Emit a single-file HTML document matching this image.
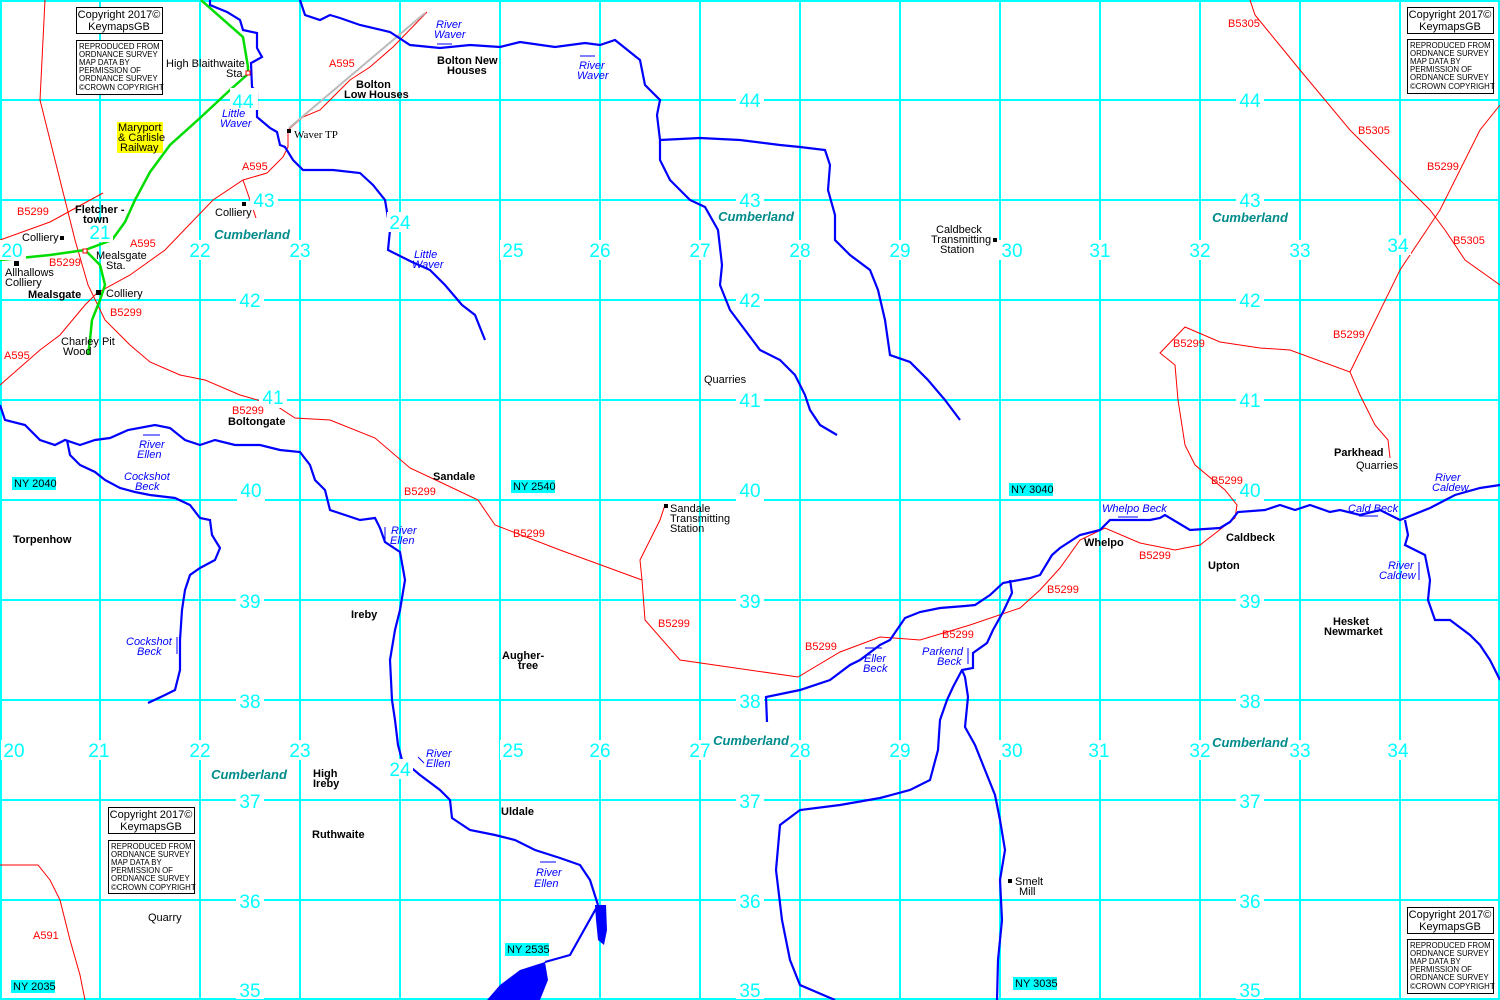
<!DOCTYPE html>
<html><head><meta charset="utf-8"><style>
html,body{margin:0;padding:0;background:#fff;}
svg{display:block;font-family:"Liberation Sans",sans-serif;}
.g{stroke:#00ffff;stroke-width:2;}
.r{stroke:#ff0000;stroke-width:1;fill:none;}
.b{stroke:#0000ff;stroke-width:2.2;fill:none;}
.n{fill:#00ffff;font-size:19px;text-anchor:middle;}
.nb{fill:#fff;}
.rl{fill:#ff0000;font-size:11px;}
.rv{fill:#0000ff;font-size:11px;font-style:italic;}
.t{fill:#000;font-size:11px;}
.tb{fill:#000;font-size:11px;font-weight:bold;}
.cu{fill:#008b8b;font-size:13px;font-weight:bold;font-style:italic;text-anchor:middle;}
.ny{fill:#000;font-size:11px;}
.cp{fill:#000;font-size:11px;text-anchor:middle;}
.cs{fill:#000;font-size:7.8px;}
</style></head><body>
<svg width="1500" height="1000" viewBox="0 0 1500 1000" xmlns="http://www.w3.org/2000/svg">
<rect width="1500" height="1000" fill="#fff"/>
<g class="g">
<line x1="100" y1="0" x2="100" y2="1000"/><line x1="200" y1="0" x2="200" y2="1000"/><line x1="300" y1="0" x2="300" y2="1000"/><line x1="400" y1="0" x2="400" y2="1000"/><line x1="500" y1="0" x2="500" y2="1000"/><line x1="600" y1="0" x2="600" y2="1000"/><line x1="700" y1="0" x2="700" y2="1000"/><line x1="800" y1="0" x2="800" y2="1000"/><line x1="900" y1="0" x2="900" y2="1000"/><line x1="1000" y1="0" x2="1000" y2="1000"/><line x1="1100" y1="0" x2="1100" y2="1000"/><line x1="1200" y1="0" x2="1200" y2="1000"/><line x1="1300" y1="0" x2="1300" y2="1000"/><line x1="1400" y1="0" x2="1400" y2="1000"/>
<line x1="0" y1="1" x2="1500" y2="1"/><line x1="0" y1="100" x2="1500" y2="100"/><line x1="0" y1="200" x2="1500" y2="200"/><line x1="0" y1="300" x2="1500" y2="300"/><line x1="0" y1="400" x2="1500" y2="400"/><line x1="0" y1="500" x2="1500" y2="500"/><line x1="0" y1="600" x2="1500" y2="600"/><line x1="0" y1="700" x2="1500" y2="700"/><line x1="0" y1="800" x2="1500" y2="800"/><line x1="0" y1="900" x2="1500" y2="900"/><line x1="0" y1="999" x2="1500" y2="999"/>
<line x1="1" y1="0" x2="1" y2="1000"/><line x1="1499" y1="0" x2="1499" y2="1000"/>
</g>

<!-- roads -->
<g class="r">
<polyline points="45,0 40,100 55,160 65,200 75,240 88,285 105,320 130,345 150,362 180,375 205,380 240,395 275,405 295,418 330,420 375,438 410,468 440,482 478,500 495,525 560,550 642,580 645,620 680,660 798,677 840,652 880,637 920,640 970,625 1020,608 1040,590 1060,568 1080,540 1105,528 1140,543 1175,550 1200,545 1235,518 1237,505 1225,490 1195,465 1185,445 1178,400 1175,365 1160,353 1185,327 1220,342 1260,348 1290,350 1350,372 1360,395 1375,425 1388,440 1390,458"/>
<polyline points="1350,372 1400,270 1440,210 1480,130 1500,105"/>
<polyline points="1250,0 1255,15 1300,70 1350,130 1400,180 1430,210 1445,230 1465,260 1500,285"/>
<polyline points="0,385 40,350 60,335 85,305 97,293 130,275 165,250 213,200 243,180 267,173 283,157 288,147 288,130 303,117 320,110 333,97 350,80 370,67 393,47 427,12"/>
<polyline points="0,240 50,222 103,193"/>
<polyline points="243,180 250,200 256,218"/>
<polyline points="642,580 640,560 660,520 665,505"/>
<polyline points="0,865 38,865 50,880 60,900 70,940 80,975 85,1000"/>
</g>
<polyline points="289,128 425,13" stroke="#bbbbbb" stroke-width="2" fill="none"/>

<!-- railway -->
<polyline points="201,0 243,37 248,67 248,74 230,90 200,118 170,145 150,172 135,200 125,222 112,240 85,250 50,255 0,260" stroke="#00dd00" stroke-width="2.5" fill="none"/>
<polyline points="85,250 100,265 105,285 100,300 92,320 90,340 88,355" stroke="#00dd00" stroke-width="2.5" fill="none"/>

<!-- rivers -->
<g class="b">
<polyline points="300,0 305,15 320,20 330,15 340,18 360,25 390,32 410,45 440,48 470,45 500,47 520,42 555,47 585,43 600,45 615,40 640,60 645,85 660,100 657,115 660,140 660,160 670,180 690,200 705,207 718,230 722,265 720,285 730,310 745,330 760,350 780,360 795,375 805,395 810,410 820,425 837,435"/>
<polyline points="660,140 700,138 740,140 780,145 800,147 825,150 830,165 828,190 835,215 835,240 850,255 870,270 878,290 885,320 890,355 910,362 928,380 945,400 960,420"/>
<polyline points="210,0 210,5 227,12 240,20 243,30 257,33 257,48 262,57 253,62 251,63 252,87 257,93 257,113 257,117 270,128 277,132 280,145 285,147 293,160 303,170 333,170 360,173 373,185 385,200 390,230 388,250 412,262 430,270 445,285 462,305 475,315 485,340"/>
<polyline points="0,405 5,420 25,425 40,440 55,445 65,440 80,445 95,440 110,438 128,430 155,425 170,428 185,440 200,445 215,440 235,445 260,445 280,450 300,452 310,465 315,480 325,490 330,510 345,515 360,520 375,518 380,528 385,542 400,552 405,580 400,610 395,630 390,660 392,700 395,720 398,745 402,760 420,775 440,790 450,800 452,818 470,830 495,835 515,840 535,850 560,858 580,865 590,880 598,905"/>
<polyline points="67,440 70,455 80,465 95,472 105,480 120,488 135,492 150,495 175,498 190,505 200,518 210,520 212,535 220,548 215,560 200,568 190,575 185,590 182,610 180,640 180,670 175,690 165,695 148,703"/>
<polyline points="767,722 766,697 800,690 830,680 850,665 860,660 880,645 890,640 905,618 920,612 940,608 965,606 975,605 990,595 1003,583 1030,578 1040,575 1052,555 1060,548 1080,535 1100,530 1110,520 1130,520 1150,520 1160,518 1165,515 1190,530 1220,528 1230,522 1238,512 1265,510 1280,505 1295,510 1310,505 1330,512 1340,510 1360,515 1380,510 1400,520 1430,508 1455,495 1480,488 1500,485"/>
<polyline points="1405,520 1408,535 1405,545 1425,555 1430,580 1428,600 1435,620 1450,620 1470,635 1480,645 1490,660 1500,680"/>
<polyline points="1010,580 1012,593 1003,612 993,630 987,643 973,653 973,668 962,670 953,687 947,700 940,720 938,750 930,780 910,790 880,798 840,805 800,810 780,825 776,870 782,920 790,960 800,985 835,1000"/>
<polyline points="962,670 965,677 968,697 965,727 975,745 985,770 995,795 1000,820 1005,850 1000,880 1002,920 998,960 997,1000"/>
<polyline points="598,905 570,955 545,962"/>
</g>
<polygon points="595,905 606,905 607,930 604,945 598,940 596,920" fill="#0000ff"/>
<polygon points="487,1000 500,985 520,970 545,962 548,980 540,1000" fill="#0000ff"/>

<!-- northing/easting labels -->
<g>
<rect class="nb" x="230" y="88" width="28" height="22"/><text class="n" x="243" y="108">44</text>
<rect class="nb" x="736" y="88" width="28" height="22"/><text class="n" x="750" y="107">44</text>
<rect class="nb" x="1236" y="88" width="28" height="22"/><text class="n" x="1250" y="107">44</text>
<rect class="nb" x="250" y="188" width="28" height="22"/><text class="n" x="264" y="207">43</text>
<rect class="nb" x="736" y="188" width="28" height="22"/><text class="n" x="750" y="207">43</text>
<rect class="nb" x="1236" y="188" width="28" height="22"/><text class="n" x="1250" y="207">43</text>
<rect class="nb" x="236" y="288" width="28" height="22"/><text class="n" x="250" y="307">42</text>
<rect class="nb" x="736" y="288" width="28" height="22"/><text class="n" x="750" y="307">42</text>
<rect class="nb" x="1236" y="288" width="28" height="22"/><text class="n" x="1250" y="307">42</text>
<rect class="nb" x="259" y="386" width="28" height="22"/><text class="n" x="273" y="404">41</text>
<rect class="nb" x="736" y="388" width="28" height="22"/><text class="n" x="750" y="407">41</text>
<rect class="nb" x="1236" y="388" width="28" height="22"/><text class="n" x="1250" y="407">41</text>
<rect class="nb" x="237" y="480" width="28" height="22"/><text class="n" x="251" y="497">40</text>
<rect class="nb" x="736" y="480" width="28" height="22"/><text class="n" x="750" y="497">40</text>
<rect class="nb" x="1236" y="480" width="28" height="22"/><text class="n" x="1250" y="497">40</text>
<rect class="nb" x="236" y="590" width="28" height="22"/><text class="n" x="250" y="608">39</text>
<rect class="nb" x="736" y="590" width="28" height="22"/><text class="n" x="750" y="608">39</text>
<rect class="nb" x="1236" y="590" width="28" height="22"/><text class="n" x="1250" y="608">39</text>
<rect class="nb" x="236" y="690" width="28" height="22"/><text class="n" x="250" y="708">38</text>
<rect class="nb" x="736" y="690" width="28" height="22"/><text class="n" x="750" y="708">38</text>
<rect class="nb" x="1236" y="690" width="28" height="22"/><text class="n" x="1250" y="708">38</text>
<rect class="nb" x="236" y="790" width="28" height="22"/><text class="n" x="250" y="808">37</text>
<rect class="nb" x="736" y="790" width="28" height="22"/><text class="n" x="750" y="808">37</text>
<rect class="nb" x="1236" y="790" width="28" height="22"/><text class="n" x="1250" y="808">37</text>
<rect class="nb" x="236" y="890" width="28" height="22"/><text class="n" x="250" y="908">36</text>
<rect class="nb" x="736" y="890" width="28" height="22"/><text class="n" x="750" y="908">36</text>
<rect class="nb" x="1236" y="890" width="28" height="22"/><text class="n" x="1250" y="908">36</text>
<rect class="nb" x="236" y="980" width="28" height="19"/><text class="n" x="250" y="997">35</text>
<rect class="nb" x="736" y="980" width="28" height="19"/><text class="n" x="750" y="997">35</text>
<rect class="nb" x="1236" y="980" width="28" height="19"/><text class="n" x="1250" y="997">35</text>
</g>
<g>
<rect class="nb" x="0" y="240" width="26" height="20"/><text class="n" x="12" y="257">20</text>
<rect class="nb" x="87" y="222" width="26" height="20"/><text class="n" x="100" y="239">21</text>
<rect class="nb" x="187" y="240" width="26" height="20"/><text class="n" x="200" y="257">22</text>
<rect class="nb" x="287" y="240" width="26" height="20"/><text class="n" x="300" y="257">23</text>
<rect class="nb" x="387" y="212" width="26" height="20"/><text class="n" x="400" y="229">24</text>
<rect class="nb" x="500" y="240" width="26" height="20"/><text class="n" x="513" y="257">25</text>
<rect class="nb" x="587" y="240" width="26" height="20"/><text class="n" x="600" y="257">26</text>
<rect class="nb" x="687" y="240" width="26" height="20"/><text class="n" x="700" y="257">27</text>
<rect class="nb" x="787" y="240" width="26" height="20"/><text class="n" x="800" y="257">28</text>
<rect class="nb" x="887" y="240" width="26" height="20"/><text class="n" x="900" y="257">29</text>
<rect class="nb" x="999" y="240" width="26" height="20"/><text class="n" x="1012" y="257">30</text>
<rect class="nb" x="1087" y="240" width="26" height="20"/><text class="n" x="1100" y="257">31</text>
<rect class="nb" x="1187" y="240" width="26" height="20"/><text class="n" x="1200" y="257">32</text>
<rect class="nb" x="1287" y="240" width="26" height="20"/><text class="n" x="1300" y="257">33</text>
<rect class="nb" x="1385" y="235" width="26" height="20"/><text class="n" x="1398" y="252">34</text>

<rect class="nb" x="1" y="740" width="26" height="20"/><text class="n" x="14" y="757">20</text>
<rect class="nb" x="86" y="740" width="26" height="20"/><text class="n" x="99" y="757">21</text>
<rect class="nb" x="187" y="740" width="26" height="20"/><text class="n" x="200" y="757">22</text>
<rect class="nb" x="287" y="740" width="26" height="20"/><text class="n" x="300" y="757">23</text>
<rect class="nb" x="387" y="759" width="26" height="20"/><text class="n" x="400" y="776">24</text>
<rect class="nb" x="500" y="740" width="26" height="20"/><text class="n" x="513" y="757">25</text>
<rect class="nb" x="587" y="740" width="26" height="20"/><text class="n" x="600" y="757">26</text>
<rect class="nb" x="687" y="740" width="26" height="20"/><text class="n" x="700" y="757">27</text>
<rect class="nb" x="787" y="740" width="26" height="20"/><text class="n" x="800" y="757">28</text>
<rect class="nb" x="887" y="740" width="26" height="20"/><text class="n" x="900" y="757">29</text>
<rect class="nb" x="999" y="740" width="26" height="20"/><text class="n" x="1012" y="757">30</text>
<rect class="nb" x="1086" y="740" width="26" height="20"/><text class="n" x="1099" y="757">31</text>
<rect class="nb" x="1187" y="740" width="26" height="20"/><text class="n" x="1200" y="757">32</text>
<rect class="nb" x="1287" y="740" width="26" height="20"/><text class="n" x="1300" y="757">33</text>
<rect class="nb" x="1385" y="740" width="26" height="20"/><text class="n" x="1398" y="757">34</text>
</g>

<!-- NY labels -->
<g>
<rect x="12" y="477" width="44" height="13" fill="#00ffff"/><text class="ny" x="14" y="487">NY 2040</text>
<rect x="511" y="480" width="44" height="13" fill="#00ffff"/><text class="ny" x="513" y="490">NY 2540</text>
<rect x="1009" y="483" width="44" height="13" fill="#00ffff"/><text class="ny" x="1011" y="493">NY 3040</text>
<rect x="505" y="943" width="44" height="13" fill="#00ffff"/><text class="ny" x="507" y="953">NY 2535</text>
<rect x="11" y="980" width="44" height="13" fill="#00ffff"/><text class="ny" x="13" y="990">NY 2035</text>
<rect x="1013" y="977" width="44" height="13" fill="#00ffff"/><text class="ny" x="1015" y="987">NY 3035</text>
</g>

<!-- copyright boxes -->
<g fill="#fff" stroke="#000" stroke-width="1">
<rect x="76.5" y="7.5" width="86" height="26"/><rect x="76.5" y="40.5" width="86" height="54"/>
<rect x="1407.5" y="7.5" width="86" height="26"/><rect x="1407.5" y="39.5" width="86" height="54"/>
<rect x="108.5" y="807.5" width="86" height="26"/><rect x="108.5" y="840.5" width="86" height="53"/>
<rect x="1407.5" y="907.5" width="86" height="26"/><rect x="1407.5" y="939.5" width="86" height="54"/>
</g>
<g>
<text class="cp" x="119" y="18">Copyright 2017©</text><text class="cp" x="119" y="30">KeymapsGB</text>
<text class="cs" x="79" y="49">REPRODUCED FROM</text><text class="cs" x="79" y="57">ORDNANCE SURVEY</text><text class="cs" x="79" y="65">MAP DATA BY</text><text class="cs" x="79" y="73">PERMISSION OF</text><text class="cs" x="79" y="81">ORDNANCE SURVEY</text><text class="cs" x="79" y="90">©CROWN COPYRIGHT</text>
<text class="cp" x="1450" y="18">Copyright 2017©</text><text class="cp" x="1450" y="30">KeymapsGB</text>
<text class="cs" x="1410" y="48">REPRODUCED FROM</text><text class="cs" x="1410" y="56">ORDNANCE SURVEY</text><text class="cs" x="1410" y="64">MAP DATA BY</text><text class="cs" x="1410" y="72">PERMISSION OF</text><text class="cs" x="1410" y="80">ORDNANCE SURVEY</text><text class="cs" x="1410" y="89">©CROWN COPYRIGHT</text>
<text class="cp" x="151" y="818">Copyright 2017©</text><text class="cp" x="151" y="830">KeymapsGB</text>
<text class="cs" x="111" y="849">REPRODUCED FROM</text><text class="cs" x="111" y="857">ORDNANCE SURVEY</text><text class="cs" x="111" y="865">MAP DATA BY</text><text class="cs" x="111" y="873">PERMISSION OF</text><text class="cs" x="111" y="881">ORDNANCE SURVEY</text><text class="cs" x="111" y="890">©CROWN COPYRIGHT</text>
<text class="cp" x="1450" y="918">Copyright 2017©</text><text class="cp" x="1450" y="930">KeymapsGB</text>
<text class="cs" x="1410" y="948">REPRODUCED FROM</text><text class="cs" x="1410" y="956">ORDNANCE SURVEY</text><text class="cs" x="1410" y="964">MAP DATA BY</text><text class="cs" x="1410" y="972">PERMISSION OF</text><text class="cs" x="1410" y="980">ORDNANCE SURVEY</text><text class="cs" x="1410" y="989">©CROWN COPYRIGHT</text>
</g>

<!-- Cumberland -->
<text class="cu" x="252" y="239">Cumberland</text>
<text class="cu" x="756" y="221">Cumberland</text>
<text class="cu" x="1250" y="222">Cumberland</text>
<text class="cu" x="751" y="745">Cumberland</text>
<text class="cu" x="1250" y="747">Cumberland</text>
<text class="cu" x="249" y="779">Cumberland</text>

<!-- road labels -->
<g class="rl">
<rect x="328" y="57" width="28" height="12" fill="#fff"/><text x="329" y="67">A595</text>
<rect x="240" y="160" width="28" height="12" fill="#fff"/><text x="242" y="170">A595</text>
<text x="130" y="247">A595</text>
<text x="4" y="359">A595</text>
<text x="17" y="215">B5299</text>
<text x="49" y="266">B5299</text>
<text x="110" y="316">B5299</text>
<text x="232" y="414">B5299</text>
<text x="404" y="495">B5299</text>
<text x="513" y="537">B5299</text>
<text x="658" y="627">B5299</text>
<text x="805" y="650">B5299</text>
<text x="942" y="638">B5299</text>
<text x="1047" y="593">B5299</text>
<text x="1139" y="559">B5299</text>
<text x="1211" y="484">B5299</text>
<text x="1173" y="347">B5299</text>
<text x="1333" y="338">B5299</text>
<text x="1427" y="170">B5299</text>
<text x="1228" y="27">B5305</text>
<text x="1358" y="134">B5305</text>
<text x="1453" y="244">B5305</text>
<text x="33" y="939">A591</text>
</g>

<!-- river labels -->
<g class="rv">
<text x="436" y="28">River</text><text x="434" y="38">Waver</text>
<text x="579" y="69">River</text><text x="577" y="79">Waver</text>
<text x="222" y="117">Little</text><text x="220" y="127">Waver</text>
<text x="414" y="258">Little</text><text x="412" y="268">Waver</text>
<text x="139" y="448">River</text><text x="137" y="458">Ellen</text>
<text x="124" y="480">Cockshot</text><text x="135" y="490">Beck</text>
<text x="391" y="534">River</text><text x="390" y="544">Ellen</text>
<text x="126" y="645">Cockshot</text><text x="137" y="655">Beck</text>
<text x="426" y="757">River</text><text x="426" y="767">Ellen</text>
<text x="536" y="876">River</text><text x="534" y="887">Ellen</text>
<text x="864" y="662">Eller</text><text x="863" y="672">Beck</text>
<text x="922" y="655">Parkend</text><text x="937" y="665">Beck</text>
<text x="1102" y="512">Whelpo Beck</text>
<text x="1348" y="512">Cald Beck</text>
<text x="1435" y="481">River</text><text x="1432" y="491">Caldew</text>
<text x="1388" y="569">River</text><text x="1379" y="579">Caldew</text>
</g>
<g stroke="#0000ff" stroke-width="1" fill="none">
<line x1="437" y1="44" x2="452" y2="44"/><line x1="580" y1="56" x2="595" y2="56"/>
<line x1="143" y1="435" x2="160" y2="435"/><line x1="385" y1="527" x2="385" y2="543"/>
<line x1="177" y1="637" x2="177" y2="654"/><line x1="418" y1="757" x2="424" y2="763"/>
<line x1="540" y1="862" x2="556" y2="862"/><line x1="865" y1="648" x2="882" y2="648"/>
<line x1="968" y1="648" x2="968" y2="664"/><line x1="1118" y1="517" x2="1138" y2="517"/>
<line x1="1359" y1="516" x2="1378" y2="516"/><line x1="1419" y1="562" x2="1419" y2="580"/>
</g>

<!-- place labels -->
<g class="t">
<text x="166" y="67">High Blaithwaite</text><text x="226" y="77">Sta.</text>
<text x="294" y="138" font-family="Liberation Serif">Waver TP</text>
<text x="215" y="216">Colliery</text>
<text x="22" y="241">Colliery</text>
<text x="96" y="259">Mealsgate</text><text x="106" y="269">Sta.</text>
<text x="5" y="276">Allhallows</text><text x="5" y="286">Colliery</text>
<text x="106" y="297">Colliery</text>
<text x="61" y="345">Charley Pit</text><text x="63" y="355">Wood</text>
<text x="704" y="383">Quarries</text>
<text x="936" y="233">Caldbeck</text><text x="931" y="243">Transmitting</text><text x="940" y="253">Station</text>
<text x="670" y="512">Sandale</text><text x="670" y="522">Transmitting</text><text x="670" y="532">Station</text>
<text x="1356" y="469">Quarries</text>
<text x="148" y="921">Quarry</text>
<text x="1015" y="885">Smelt</text><text x="1019" y="895">Mill</text>
</g>
<g class="tb">
<text x="356" y="88">Bolton</text><text x="344" y="98">Low Houses</text>
<text x="437" y="64">Bolton New</text><text x="447" y="74">Houses</text>
<text x="75" y="213">Fletcher -</text><text x="83" y="223">town</text>
<text x="28" y="298">Mealsgate</text>
<text x="228" y="425">Boltongate</text>
<text x="433" y="480">Sandale</text>
<text x="13" y="543">Torpenhow</text>
<text x="351" y="618">Ireby</text>
<text x="502" y="659">Augher-</text><text x="518" y="669">tree</text>
<text x="313" y="777">High</text><text x="313" y="787">Ireby</text>
<text x="312" y="838">Ruthwaite</text>
<text x="501" y="815">Uldale</text>
<text x="1084" y="546">Whelpo</text>
<text x="1226" y="541">Caldbeck</text>
<text x="1208" y="569">Upton</text>
<text x="1333" y="625">Hesket</text><text x="1324" y="635">Newmarket</text>
<text x="1334" y="456">Parkhead</text>
</g>
<rect x="117" y="122" width="46" height="31" fill="#ffff00"/>
<text class="t" x="118" y="131">Maryport</text><text class="t" x="118" y="141">&amp; Carlisle</text><text class="t" x="120" y="151">Railway</text>

<!-- markers -->
<g fill="#000">
<rect x="242" y="202" width="4" height="4"/><rect x="60" y="236" width="4" height="4"/>
<rect x="14" y="261" width="5" height="5"/><rect x="96" y="290" width="5" height="5"/>
<rect x="287" y="129" width="4" height="4"/><rect x="993" y="238" width="4" height="4"/>
<rect x="664" y="504" width="4" height="4"/><rect x="1008" y="879" width="4" height="4"/>
</g>
<rect x="246" y="71" width="4" height="4" fill="#fff" stroke="#ff0000"/>
<rect x="83" y="249" width="4" height="4" fill="#fff" stroke="#ff0000"/>
</svg>
</body></html>
